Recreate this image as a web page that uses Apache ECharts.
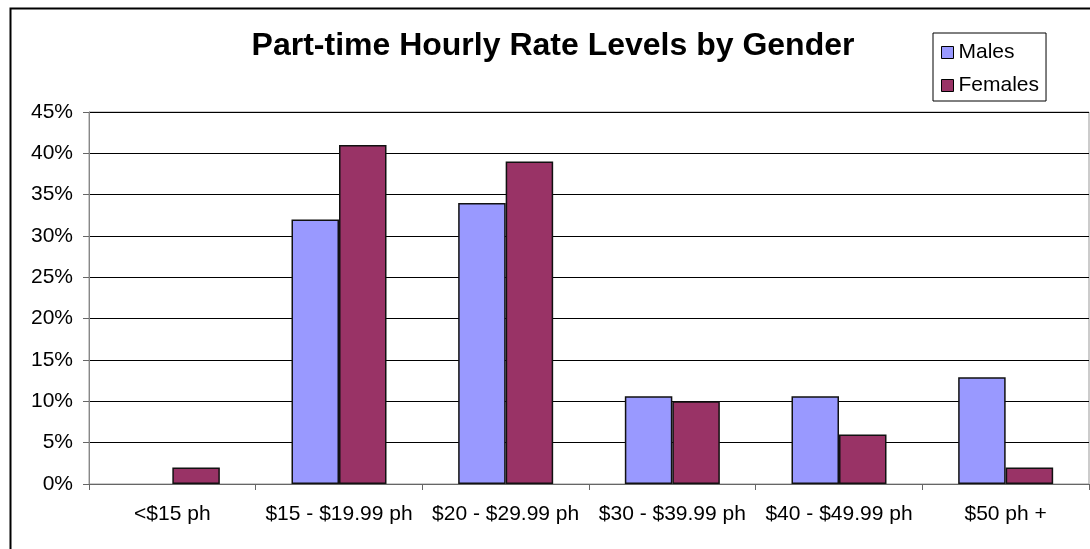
<!DOCTYPE html>
<html>
<head>
<meta charset="utf-8">
<script src="https://cdn.jsdelivr.net/npm/echarts@6/dist/echarts.min.js"></script>
<style>
  html, body { margin: 0; padding: 0; background: #fff; }
  #chart { width: 1090px; height: 549px; }
</style>
</head>
<body>
<div id="chart"></div>
<script>
// data
var categories = ['<$15 ph', '$15 - $19.99 ph', '$20 - $29.99 ph', '$30 - $39.99 ph', '$40 - $49.99 ph', '$50 ph +'];
var males = [0, 32, 34, 10.6, 10.6, 12.9];
var females = [2, 41, 39, 10, 6, 2];

var myChart = echarts.init(document.getElementById('chart'));

var font = 'Liberation Sans, Arial, sans-serif';

// a zero bar is not drawn at all in the original
function noZero(arr) {
    return arr.map(function (v) { return v === 0 ? '-' : v; });
}

option = {
    animation: false,
    backgroundColor: '#fff',
    textStyle: { fontFamily: font },
    title: {
        text: 'Part-time Hourly Rate Levels by Gender',
        left: 553,
        textAlign: 'center',
        top: 30,
        padding: 0,
        textStyle: { fontSize: 32, fontWeight: 'bold', color: '#000', fontFamily: font }
    },
    legend: {
        orient: 'vertical',
        left: 933,
        top: 33,
        padding: [9, 7, 5, 8],
        itemGap: 12,
        itemWidth: 12,
        itemHeight: 12,
        icon: 'rect',
        borderColor: '#000',
        borderWidth: 1,
        textStyle: { fontSize: 21, color: '#000', fontFamily: font },
        itemStyle: { borderColor: '#000', borderWidth: 1 },
        data: ['Males', 'Females']
    },
    grid: {
        left: 89,
        right: 1,
        top: 112,
        bottom: 65,
        show: true,
        borderColor: '#999',
        borderWidth: 1
    },
    xAxis: {
        type: 'category',
        data: categories,
        axisLine: { lineStyle: { color: '#666', width: 1 } },
        axisTick: { show: true, length: 6, lineStyle: { color: '#666' } },
        axisLabel: { fontSize: 21, color: '#000', margin: 20, interval: 0, fontFamily: font }
    },
    yAxis: {
        type: 'value',
        min: 0,
        max: 45,
        interval: 5,
        axisLine: { show: true, lineStyle: { color: '#888', width: 1 } },
        axisTick: { show: true, length: 6, lineStyle: { color: '#666' } },
        axisLabel: { fontSize: 21, color: '#000', margin: 16, formatter: '{value}%', fontFamily: font },
        splitLine: { lineStyle: { color: '#000', width: 1 } }
    },
    series: [
        {
            name: 'Males',
            type: 'bar',
            data: noZero(males),
            barGap: '0%',
            barCategoryGap: '43%',
            itemStyle: { color: '#9999FF', borderColor: '#111', borderWidth: 1.5 }
        },
        {
            name: 'Females',
            type: 'bar',
            data: noZero(females),
            barGap: '0%',
            barCategoryGap: '43%',
            itemStyle: { color: '#993366', borderColor: '#111', borderWidth: 1.5 }
        }
    ],
    graphic: [
        {
            type: 'rect',
            left: 8,
            top: 6,
            shape: { width: 1100, height: 600 },
            style: { fill: null, stroke: '#000', lineWidth: 2 },
            silent: true
        }
    ]
};

myChart.setOption(option);
</script>
</body>
</html>
